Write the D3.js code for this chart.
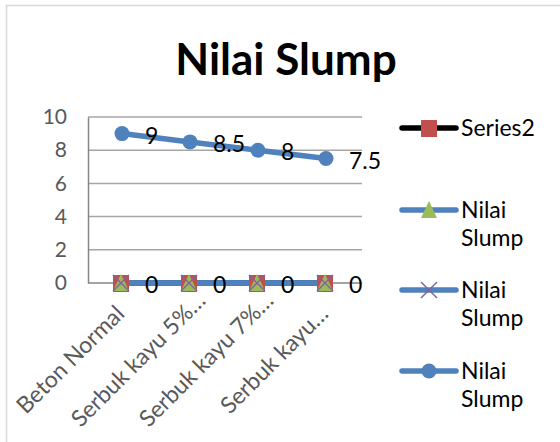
<!DOCTYPE html>
<html>
<head>
<meta charset="utf-8">
<script src="https://cdn.jsdelivr.net/npm/d3@7"></script>
<style>
  html, body { margin: 0; padding: 0; background: #fff; }
  svg { display: block; font-family: Lato, "Open Sans", sans-serif; }
</style>
</head>
<body>
<div id="chart"></div>
<script>
// chart data
const categories = ['Beton Normal', 'Serbuk kayu 5%…', 'Serbuk kayu 7%…', 'Serbuk kayu…'];
const series2 = [0, 0, 0, 0];
const slumpTriangle = [0, 0, 0, 0];
const slumpCross = [0, 0, 0, 0];
const slumpCircle = [9, 8.5, 8, 7.5];
const yTicks = [0, 2, 4, 6, 8, 10];
const legendNames = ['Series2', 'Nilai Slump', 'Nilai Slump', 'Nilai Slump'];

const WIDTH = 560;
const HEIGHT = 442;
const BLUE = '#4F81BD';
const RED = '#C0504D';
const GREEN = '#9BBB59';
const PURPLE = '#8064A2';

const svg = d3.select('#chart')
  .append('svg')
  .attr('width', WIDTH)
  .attr('height', HEIGHT);

// chart frame
svg.append('rect')
  .attr('x', 6.5)
  .attr('y', 5.5)
  .attr('width', 600)
  .attr('height', 500)
  .attr('fill', '#fff')
  .attr('stroke', '#D9D9D9')
  .attr('stroke-width', 1.5);

// title
svg.append('text')
  .attr('x', 286)
  .attr('y', 75)
  .attr('text-anchor', 'middle')
  .attr('font-size', 44)
  .attr('font-weight', 'bold')
  .attr('fill', '#000')
  .text('Nilai Slump');

// scales
const x = d3.scaleBand()
  .domain(categories)
  .range([88, 360]);
const y = d3.scaleLinear()
  .domain([0, 10])
  .range([283, 117]);
const cx = d => x(d) + x.bandwidth() / 2;

// gridlines
svg.append('g')
  .selectAll('line')
  .data(yTicks.filter(t => t > 0))
  .enter()
  .append('line')
  .attr('x1', 88)
  .attr('x2', 362)
  .attr('y1', d => y(d))
  .attr('y2', d => y(d))
  .attr('stroke', '#A6A6A6')
  .attr('stroke-width', 1.5);

// y axis
const yAxis = svg.append('g')
  .attr('transform', 'translate(88,0)')
  .call(d3.axisLeft(y).tickValues(yTicks).tickSize(0).tickPadding(21));
yAxis.select('.domain').attr('stroke', '#868686').attr('stroke-width', 1.5);
yAxis.selectAll('text')
  .attr('font-size', 21)
  .attr('font-family', 'Lato, "Open Sans", sans-serif')
  .attr('fill', '#595959');

// x axis line
svg.append('line')
  .attr('x1', 88)
  .attr('x2', 362)
  .attr('y1', y(0))
  .attr('y2', y(0))
  .attr('stroke', '#868686')
  .attr('stroke-width', 1.5);

// x labels, rotated -45 and centred in a box of the longest label's length
const xLabels = svg.append('g')
  .selectAll('text')
  .data(categories)
  .enter()
  .append('text')
  .attr('text-anchor', 'middle')
  .attr('font-size', 23)
  .attr('fill', '#595959')
  .text(d => d);
const boxLen = d3.max(xLabels.nodes(), n => n.getComputedTextLength());
const half = boxLen / 2 * Math.SQRT1_2;
xLabels.attr('transform', d => `translate(${cx(d) + 17 - half},${y(0) + 19 + half}) rotate(-45)`);

const line = d3.line()
  .x((d, i) => cx(categories[i]))
  .y(d => y(d));

// series lines
svg.append('path').datum(series2).attr('d', line)
  .attr('fill', 'none').attr('stroke', '#000').attr('stroke-width', 5.5).attr('stroke-linecap', 'round');
[slumpTriangle, slumpCross, slumpCircle].forEach(s => {
  svg.append('path').datum(s).attr('d', line)
    .attr('fill', 'none').attr('stroke', BLUE).attr('stroke-width', 5.5).attr('stroke-linecap', 'round');
});

// marker helpers
function square(g, px, py) {
  g.append('rect').attr('x', px - 8).attr('y', py - 8).attr('width', 16).attr('height', 17).attr('fill', RED);
}
function triangle(g, px, py) {
  g.append('path').attr('d', `M${px},${py - 9}L${px + 8},${py + 8}L${px - 8},${py + 8}Z`).attr('fill', GREEN);
}
function cross(g, px, py) {
  g.append('path').attr('d', `M${px - 8},${py - 8}L${px + 8},${py + 8}M${px + 8},${py - 8}L${px - 8},${py + 8}`)
    .attr('stroke', PURPLE).attr('stroke-width', 1.5);
}
function circle(g, px, py) {
  g.append('circle').attr('cx', px).attr('cy', py).attr('r', 7.5).attr('fill', BLUE);
}

const marks = svg.append('g');
series2.forEach((v, i) => square(marks, cx(categories[i]) - 1, y(v)));
slumpTriangle.forEach((v, i) => triangle(marks, cx(categories[i]) - 1, y(v)));
slumpCross.forEach((v, i) => cross(marks, cx(categories[i]) - 1, y(v)));
slumpCircle.forEach((v, i) => circle(marks, cx(categories[i]), y(v)));

// data labels
const labels = svg.append('g')
  .attr('font-size', 23)
  .attr('fill', '#000');
[slumpTriangle, slumpCircle].forEach(s => {
  labels.selectAll(null)
    .data(s)
    .enter()
    .append('text')
    .attr('x', (d, i) => cx(categories[i]) + 23)
    .attr('y', d => y(d) + 2)
    .attr('dy', '0.35em')
    .text(d => d);
});

// legend
const legend = svg.append('g').attr('font-size', 23).attr('fill', '#000');
const legendY = [128, 210, 290, 371];
const markerFns = [square, triangle, cross, circle];
legendNames.forEach((name, i) => {
  const ly = legendY[i];
  legend.append('line')
    .attr('x1', 402).attr('x2', 456).attr('y1', ly).attr('y2', ly)
    .attr('stroke', i === 0 ? '#000' : BLUE).attr('stroke-width', 5.5).attr('stroke-linecap', 'round');
  markerFns[i](legend, 429, ly);
  const words = name.split(' ');
  const t = legend.append('text').attr('x', 461).attr('y', ly + 8);
  words.forEach((w, j) => {
    t.append('tspan').attr('x', 461).attr('dy', j === 0 ? 0 : 28).text(w);
  });
});
</script>
</body>
</html>
